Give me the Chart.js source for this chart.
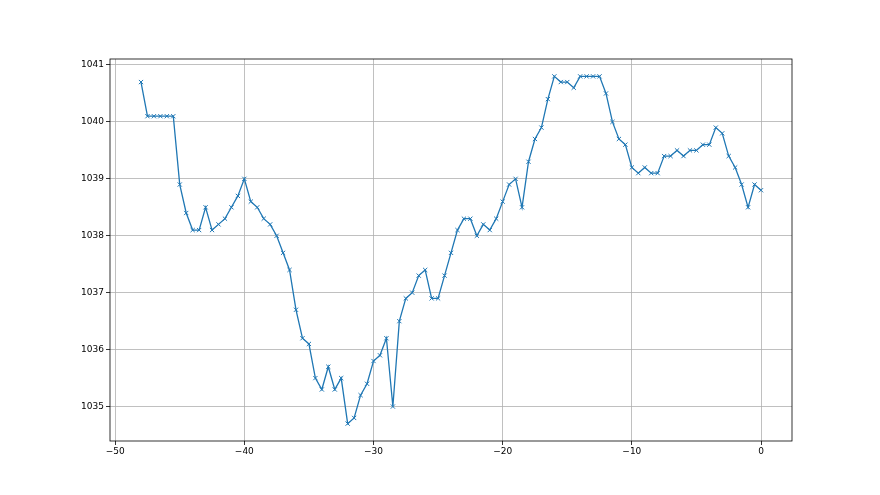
<!DOCTYPE html>
<html>
<head>
<meta charset="utf-8">
<script src="https://cdn.jsdelivr.net/npm/chart.js@4/dist/chart.umd.min.js"></script>
<style>
  html, body { margin: 0; padding: 0; background: #fff; }
  #wrap { width: 880px; height: 495px; }
</style>
</head>
<body>
<div id="wrap"><canvas id="pressureChart"></canvas></div>
<script>
// hours relative to now, every half hour
const hours = [];
for (let h = -48; h <= 0; h += 0.5) hours.push(h);

// readings
const pressure = [
  1040.7, 1040.1, 1040.1, 1040.1, 1040.1, 1040.1, 1038.9, 1038.4, 1038.1, 1038.1,
  1038.5, 1038.1, 1038.2, 1038.3, 1038.5, 1038.7, 1039.0, 1038.6, 1038.5, 1038.3,
  1038.2, 1038.0, 1037.7, 1037.4, 1036.7, 1036.2, 1036.1, 1035.5, 1035.3, 1035.7,
  1035.3, 1035.5, 1034.7, 1034.8, 1035.2, 1035.4, 1035.8, 1035.9, 1036.2, 1035.0,
  1036.5, 1036.9, 1037.0, 1037.3, 1037.4, 1036.9, 1036.9, 1037.3, 1037.7, 1038.1,
  1038.3, 1038.3, 1038.0, 1038.2, 1038.1, 1038.3, 1038.6, 1038.9, 1039.0, 1038.5,
  1039.3, 1039.7, 1039.9, 1040.4, 1040.8, 1040.7, 1040.7, 1040.6, 1040.8, 1040.8,
  1040.8, 1040.8, 1040.5, 1040.0, 1039.7, 1039.6, 1039.2, 1039.1, 1039.2, 1039.1,
  1039.1, 1039.4, 1039.4, 1039.5, 1039.4, 1039.5, 1039.5, 1039.6, 1039.6, 1039.9,
  1039.8, 1039.4, 1039.2, 1038.9, 1038.5, 1038.9, 1038.8
];

const xTicks = [-50, -40, -30, -20, -10, 0];
const yTicks = [1035, 1036, 1037, 1038, 1039, 1040, 1041];

// draw the box round the plot like matplotlib spines
const frame = {
  id: "frame",
  afterDatasetsDraw(chart) {
    const a = chart.chartArea;
    const ctx = chart.ctx;
    ctx.save();
    ctx.strokeStyle = "#000";
    ctx.lineWidth = 0.8;
    ctx.strokeRect(a.left, a.top, a.right - a.left, a.bottom - a.top);
    ctx.restore();
  }
};

const points = hours.map((h, i) => ({ x: h, y: pressure[i] }));

const ctx = document.getElementById("pressureChart").getContext("2d");
new Chart(ctx, {
  type: "line",
  data: {
    datasets: [{
      data: points,
      borderColor: "#1f77b4",
      borderWidth: 1.3,
      pointStyle: "crossRot",
      pointRadius: 3,
      pointBorderColor: "#1f77b4",
      pointBorderWidth: 1,
      tension: 0,
      fill: false
    }]
  },
  options: {
    responsive: true,
    maintainAspectRatio: false,
    animation: false,
    layout: { padding: { top: 59, right: 88, left: 0, bottom: 0 } },
    plugins: { legend: { display: false }, tooltip: { enabled: false } },
    scales: {
      x: {
        type: "linear",
        min: -50.4,
        max: 2.4,
        afterBuildTicks: (s) => { s.ticks = xTicks.map(v => ({ value: v })); },
        afterFit: (s) => { s.height = 54; },
        grid: { color: "#b0b0b0", lineWidth: 0.8, tickLength: 4, tickColor: "#000" },
        border: { display: false },
        ticks: {
          color: "#000",
          padding: 1,
          maxRotation: 0,
          font: { family: "DejaVu Sans", size: 9 },
          callback: (v) => (v < 0 ? "\u2212" + Math.abs(v) : String(v))
        }
      },
      y: {
        min: 1034.395,
        max: 1041.105,
        afterBuildTicks: (s) => { s.ticks = yTicks.map(v => ({ value: v })); },
        afterFit: (s) => { s.width = 110; },
        grid: { color: "#b0b0b0", lineWidth: 0.8, tickLength: 4, tickColor: "#000" },
        border: { display: false },
        ticks: {
          color: "#000",
          padding: 2,
          font: { family: "DejaVu Sans", size: 9 },
          callback: (v) => String(v)
        }
      }
    }
  },
  plugins: [frame]
});
</script>
</body>
</html>
